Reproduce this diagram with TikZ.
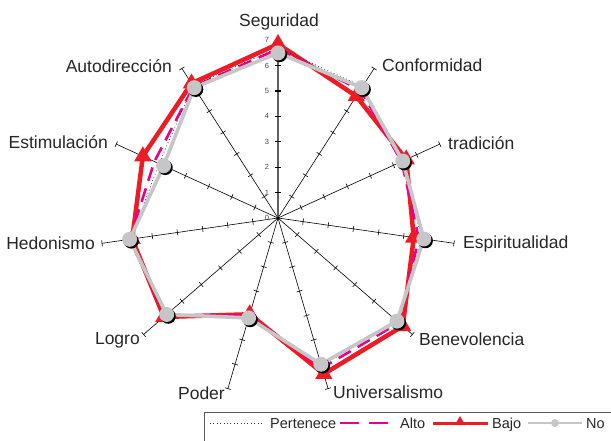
\documentclass[tikz,border=0pt]{standalone}
\usepackage{fontspec}
\setmainfont{Liberation Sans}
\usetikzlibrary{shapes.geometric}
\definecolor{redB}{RGB}{237,28,36}
\definecolor{pinkA}{RGB}{230,0,140}
\definecolor{grayN}{RGB}{198,198,200}
\definecolor{tickgray}{RGB}{70,70,70}
\tikzset{
  axisline/.style={black, line width=0.6pt},
  tickmark/.style={black, line width=0.6pt},
  segaxis/.style={gray!75!black, line width=1.6pt},
  lbl/.style={font=\fontsize{17.5}{20}\selectfont, text=black!85, inner sep=0pt},
  leglbl/.style={font=\fontsize{14.5}{17}\selectfont, text=black!85, inner sep=0pt, anchor=base west},
  ticklbl/.style={font=\fontsize{7.5}{8}\selectfont, text=tickgray, inner sep=0pt},
  pertenece/.style={black!80, line width=0.8pt, dash pattern=on 0.8pt off 2.6pt},
  alto/.style={pinkA, line width=2.6pt, dash pattern=on 14pt off 8pt},
  bajo/.style={redB, line width=4.5pt, line join=miter},
  nols/.style={grayN, line width=3.6pt, line join=round},
  tri/.style={regular polygon, regular polygon sides=3, fill=redB, inner sep=0pt, minimum size=20pt},
  dot/.style={circle, fill=grayN, inner sep=0pt, minimum size=15pt},
  shadowdot/.style={circle, fill=black, inner sep=0pt, minimum size=15pt},
  legbox/.style={draw=gray!70!black, line width=1pt}
}
\begin{document}
\begin{tikzpicture}[x=1pt,y=1pt]
\useasboundingbox (-278,-222) rectangle (333,218);
\coordinate (O) at (0,0);
% axes (1..10), Seguridad axis (0) drawn separately
\foreach \i in {1,...,10}{
  \pgfmathsetmacro\ang{90-360/11*\i}
  \pgfmathsetmacro\angp{\ang+90}
  \pgfmathsetmacro\angm{\ang-90}
  \draw[axisline] (O) -- (\ang:178) coordinate (e\i);
  \foreach \k in {1,...,7}{
    \pgfmathsetmacro\rr{\k*25.4}
    \draw[tickmark] (\ang:\rr) ++(\angp:3) -- ++(\angm:6);
  }
}
\draw[segaxis] (O) -- (0,178) coordinate (e0);
\foreach \k in {0,...,7}{
  \pgfmathsetmacro\rr{\k*25.4}
  \ifnum\k>0 \draw[black, line width=1.3pt] (-3,\rr) -- (3,\rr);\fi
  \node[ticklbl] (t\k) at (-11,\rr) {\k};
}
\fill[black] (O) circle (1.6pt);
% data
\begin{scope}[x=25.4pt,y=25.4pt]
\draw[bajo] (90:6.85) \foreach \v [count=\i from 1] in {5.7,5.55,5.4,6.5,6.4,3.95,5.95,5.8,5.85,6.3}{ -- ({90-360/11*\i}:\v) } -- cycle;
\draw[alto] (90:6.65) \foreach \v [count=\i from 1] in {6.0,5.35,5.6,6.3,6.15,4.0,5.85,5.9,5.35,6.15}{ -- ({90-360/11*\i}:\v) } -- cycle;
\draw[pertenece] (90:6.7) \foreach \v [count=\i from 1] in {6.15,5.45,5.7,6.25,6.05,4.05,5.95,5.85,5.15,6.2}{ -- ({90-360/11*\i}:\v) } -- cycle;
\foreach \v [count=\i from 0] in {6.85,5.7,5.55,5.4,6.5,6.4,3.95,5.95,5.8,5.85,6.3}{
  \node[tri] (b\i) at ({90-360/11*\i}:\v) {};
}
\draw[nols] (90:6.5) \foreach \v [count=\i from 1] in {6.1,5.4,5.8,6.2,6.0,4.1,5.8,5.9,4.95,6.1}{ -- ({90-360/11*\i}:\v) } -- cycle;
\foreach \v [count=\i from 0] in {6.5,6.1,5.4,5.8,6.2,6.0,4.1,5.8,5.9,4.95,6.1}{
  \node[shadowdot] (s\i) at ([shift={(1.6pt,-1.8pt)}]{90-360/11*\i}:\v) {};
  \node[dot] (n\i) at ({90-360/11*\i}:\v) {};
}
\end{scope}
% axis labels
\node[lbl, anchor=base] (L0) at (1,192) {Seguridad};
\node[lbl, anchor=base west] (L1) at (104,147) {Conformidad};
\node[lbl, anchor=base west] (L2) at (170,69) {tradición};
\node[lbl, anchor=base west] (L3) at (185,-30) {Espiritualidad};
\node[lbl, anchor=base west] (L4) at (141,-127) {Benevolencia};
\node[lbl, anchor=base west] (L5) at (55,-180) {Universalismo};
\node[lbl, anchor=base east] (L6) at (-53,-181) {Poder};
\node[lbl, anchor=base east] (L7) at (-138,-126) {Logro};
\node[lbl, anchor=base east] (L8) at (-183,-31) {Hedonismo};
\node[lbl, anchor=base east] (L9) at (-170,70) {Estimulación};
\node[lbl, anchor=base east] (L10) at (-106,146) {Autodirección};
% legend
\draw[legbox] (-73,-230) -- (-73,-194) -- (345,-194);
\coordinate (p1) at (-68,-205); \coordinate (p2) at (-16,-205);
\draw[pertenece] (p1) -- (p2);
\node[leglbl] (lp) at (-8,-210) {Pertenece};
\coordinate (a1) at (62,-205); \coordinate (a2) at (114,-205);
\draw[alto, dash pattern=on 19pt off 10pt] (a1) -- (a2);
\node[leglbl] (la) at (122,-210) {Alto};
\coordinate (r1) at (155,-205); \coordinate (r2) at (210,-205);
\draw[redB, line width=3pt] (r1) -- (r2);
\node[regular polygon, regular polygon sides=3, fill=redB, inner sep=0pt, minimum size=12pt] (rt) at (182,-204) {};
\node[leglbl] (lb) at (214,-210) {Bajo};
\coordinate (g1) at (250,-205); \coordinate (g2) at (304,-205);
\draw[grayN, line width=2.5pt] (g1) -- (g2);
\node[circle, fill=grayN, inner sep=0pt, minimum size=8pt] (gc) at (277,-205) {};
\node[leglbl] (ln) at (308,-210) {No};
\end{tikzpicture}
\end{document}
